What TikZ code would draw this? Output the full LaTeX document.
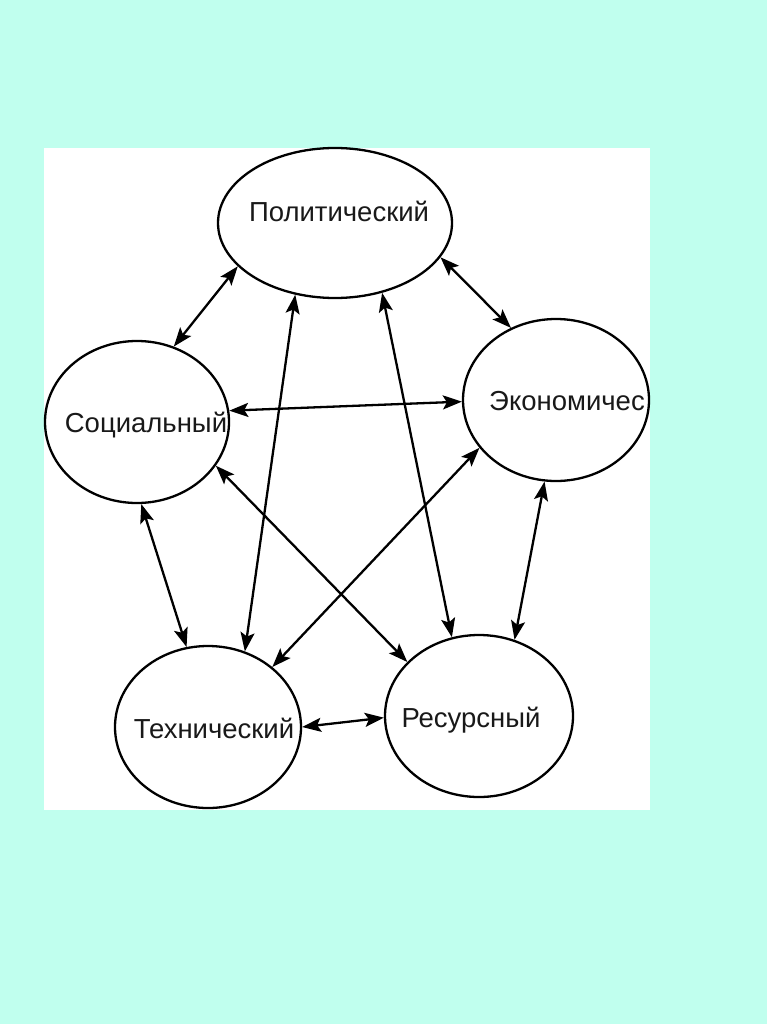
\documentclass[tikz,border=0pt]{standalone}
\usepackage{fontspec}
\setmainfont{Liberation Sans}
\usetikzlibrary{shapes.geometric,arrows.meta}
\definecolor{bgc}{RGB}{192,255,238}
\tikzset{
  ell/.style={draw=black,line width=2.3pt,ellipse,inner sep=0pt,fill=white},
  lbl/.style={anchor=base,inner sep=0pt,font=\fontsize{27.5}{30}\selectfont,text=black!90},
  link/.style={line width=2.3pt,{Stealth[length=19pt,width=14pt,inset=4pt]}-{Stealth[length=19pt,width=14pt,inset=4pt]}}
}
\begin{document}
\begin{tikzpicture}[x=1pt,y=-1pt]
\useasboundingbox (0,0) rectangle (767,1024);
\fill[bgc] (0,0) rectangle (767,1024);
\fill[white] (44,148) rectangle (650,810);
\node[ell,minimum width=234pt,minimum height=150pt] (pol) at (335,223) {};
\node[ell,minimum width=186pt,minimum height=162pt] (eco) at (556,400) {};
\node[ell,minimum width=184pt,minimum height=162pt] (soc) at (137,422) {};
\node[ell,minimum width=186pt,minimum height=162pt] (tech) at (208,727) {};
\node[ell,minimum width=188pt,minimum height=162pt] (res) at (479,716) {};
\node[lbl] (tpol) at (339,222) {Политический};
\node[lbl] (teco) at (567,410) {Экономичес};
\node[lbl] (tsoc) at (146,432) {Социальный};
\node[lbl] (ttech) at (214,738) {Технический};
\node[lbl] (tres) at (471,727) {Ресурсный};
\draw[link] (pol.204) -- (soc.64);
\draw[link] (pol.342) -- (eco.122);
\draw[link] (pol.241) -- (tech.64);
\draw[link] (pol.304) -- (res.109);
\draw[link] (soc.7) -- (eco.181);
\draw[link] (soc.-29) -- (res.143);
\draw[link] (soc.-87) -- (tech.105);
\draw[link] (eco.212) -- (tech.43);
\draw[link] (eco.262) -- (res.65);
\draw[link] (tech.0) -- (res.181);
\end{tikzpicture}
\end{document}
